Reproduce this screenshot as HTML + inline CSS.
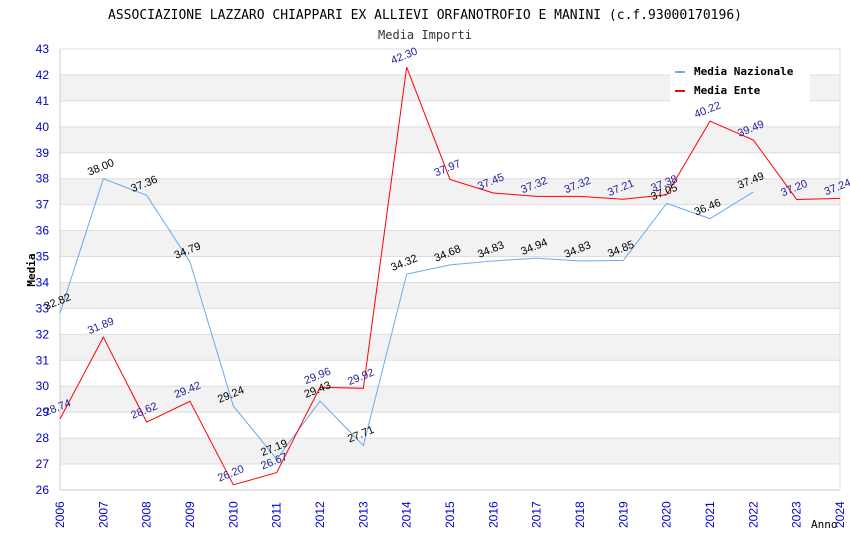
<!DOCTYPE html>
<html><head><meta charset="utf-8"><style>
body{margin:0;background:#fff}
svg{display:block}
text{font-family:"DejaVu Sans Mono","Liberation Mono",monospace}
text.s{font-family:"Liberation Sans",sans-serif}
</style></head><body>
<svg id="chart" width="850" height="550" xmlns="http://www.w3.org/2000/svg">
<text x="425" y="19" text-anchor="middle" font-size="13" fill="#000">ASSOCIAZIONE LAZZARO CHIAPPARI EX ALLIEVI ORFANOTROFIO E MANINI (c.f.93000170196)</text>
<text x="425" y="39" text-anchor="middle" font-size="12" fill="#333">Media Importi</text>
<g id="bands"></g><g id="grid"></g><g id="axes"></g><g id="series"></g><g id="labels"></g>
<text transform="translate(35,270) rotate(-90)" text-anchor="middle" font-size="11" font-weight="bold" fill="#000">Media</text>
<text x="811" y="528" font-size="11" fill="#000">Anno</text>
<g>
<rect x="670" y="60" width="140" height="42" fill="#fff"/>
<line x1="675" y1="72" x2="685" y2="72" stroke="#6aaaf0" stroke-width="2"/>
<text x="694" y="75" font-size="11" font-weight="bold">Media Nazionale</text>
<line x1="675" y1="91" x2="685" y2="91" stroke="#f00" stroke-width="2"/>
<text x="694" y="94" font-size="11" font-weight="bold">Media Ente</text>
</g>
</svg>
<script>
const years=[2006,2007,2008,2009,2010,2011,2012,2013,2014,2015,2016,2017,2018,2019,2020,2021,2022,2023,2024];
const nazionale=[32.82,38.00,37.36,34.79,29.24,27.19,29.43,27.71,34.32,34.68,34.83,34.94,34.83,34.85,37.05,36.46,37.49,null,null];
const ente=[28.74,31.89,28.62,29.42,26.20,26.67,29.96,29.92,42.30,37.97,37.45,37.32,37.32,37.21,37.38,40.22,39.49,37.20,37.24];
const yTicks=[26,27,28,29,30,31,32,33,34,35,36,37,38,39,40,41,42,43];
const X0=60,X1=840,Y0=490,Y1=49;
const xs=y=>X0+(y-2006)*(X1-X0)/18;
const ys=v=>Y0-(v-26)*(Y0-Y1)/17;
const NS="http://www.w3.org/2000/svg";
function mk(t,a,p){const e=document.createElementNS(NS,t);for(const k in a)e.setAttribute(k,a[k]);p.appendChild(e);return e;}
const bands=document.getElementById('bands'),grid=document.getElementById('grid'),axes=document.getElementById('axes'),ser=document.getElementById('series'),lab=document.getElementById('labels');
yTicks.forEach(t=>{
 if(t<43&&t%2===1){const r=mk('rect',{x:X0,y:ys(t+1),width:X1-X0,height:ys(t)-ys(t+1),fill:'#f2f2f2'},bands);
  
  }
 const l=mk('line',{x1:X0,x2:X1,y1:ys(t),y2:ys(t),stroke:'#ddd'},grid);
 
 
 const tx=mk('text',{x:X0-11,y:ys(t)+4,'text-anchor':'end','font-size':12,fill:'#00c',class:'s'},axes);tx.textContent=t;
 
 
});
mk('line',{x1:X1,x2:X1,y1:Y1,y2:Y0,stroke:'#ddd'},grid);
mk('line',{x1:X0,x2:X1,y1:Y1,y2:Y1,stroke:'#ddd'},grid);
mk('line',{x1:X0,x2:X0,y1:Y1,y2:Y0,stroke:'#ccc'},axes);
mk('line',{x1:X0,x2:X1,y1:Y0,y2:Y0,stroke:'#ccc'},axes);
years.forEach(y=>{
 const tx=mk('text',{transform:`translate(${xs(y)+4},${Y0+38}) rotate(-90)`,'font-size':12,fill:'#00c',class:'s'},axes);tx.textContent=y;
 
 
});
function draw(vals,color,lc,name){
 const pts=[];vals.forEach((v,i)=>{if(v!=null)pts.push(xs(years[i])+','+ys(v));});
 const p=mk('polyline',{points:pts.join(' '),fill:'none',stroke:color,'stroke-width':1},ser);
 
 
 vals.forEach((v,i)=>{if(v==null)return;
  const x=xs(years[i]),y=ys(v);
  const t=mk('text',{transform:`translate(${x-14},${y-3}) rotate(-22)`,'font-size':11,fill:lc,class:'s'},lab);
  t.textContent=v.toFixed(2);
  
  
 });
}
draw(nazionale,'#6aaaf0','#000','nazionale');
draw(ente,'#f00','#229','ente');
</script>
</body></html>
